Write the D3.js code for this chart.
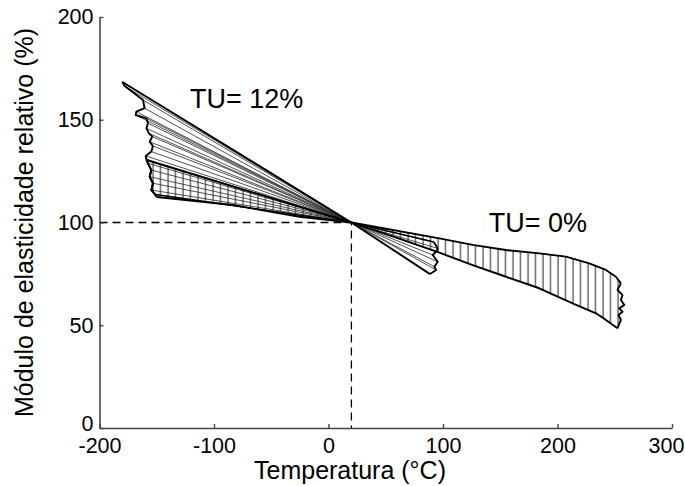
<!DOCTYPE html>
<html><head><meta charset="utf-8">
<script src="https://cdn.jsdelivr.net/npm/d3@7/dist/d3.min.js"></script>
<style>body{margin:0;background:#fff}svg{display:block}text{font-family:"Liberation Sans",Arial,sans-serif;fill:#000}</style>
</head><body><svg id="c" width="685" height="486"></svg>
<script>
// ---- data (temperature °C, relative modulus %) ----
const xTicks = [-200, -100, 0, 100, 200, 300];
const yTicks = [0, 50, 100, 150, 200];
const pivot = [20, 100];
// TU = 12% : left end points of the individual lines (jagged edge), top to bottom
const tu12Left = [[-180,168.4],[-178,166.4],[-162,159.6],[-160.6,155.6],[-167.8,153.9],[-168.4,152.3],[-159,150.7],[-157.7,148.3],[-159,145.8],[-156.8,143.4],[-153.9,141.8],[-156.2,139.3],[-153.3,137.2],[-154.7,134.5],[-159.7,132.4],[-159,130.7],[-157.7,128.8],[-154.7,125.5],[-156.2,122.3],[-153.3,119.1],[-154.7,115.8],[-151,113.6]];
// TU = 12% : right end points, bottom to top
const tu12Right = [[88.7,74.9],[94,76.9],[92.5,78.5],[95.4,80.9],[91,84.2],[94,85.8],[95.4,87.4],[92,90.5]];
// TU = 0% band
const tu0UpperLeft = [[-159,130.4],[20,100]];
const tu0UpperRight = [[20,100],[96.9,92.3],[125.9,89.1],[155,86.6],[184.1,85],[207.4,83.4],[227.7,80.1],[242.3,76.9],[251,73.6],[255.4,70.4]];
const tu0RightEdge = [[255.4,70.4],[252.4,67.2],[256.8,64.7],[255.4,62.3],[258.3,59.9],[253.9,58.2],[256.8,56.6],[253.3,55],[255.4,52.6],[252.4,48.5]];
const tu0LowerRight = [[252.4,48.5],[242.3,52.6],[233.6,55.8],[213.2,60.7],[184.1,68],[155,73.6],[125.9,79.3],[96.9,85.3],[60,92.5],[20,100]];
const tu0LowerLeft = [[20,100],[-25.3,102.8],[-83.5,108.5],[-150,112.4]];
const tu0LeftEdge = [[-150,112.4],[-154.7,115.8],[-153.3,119.1],[-156.2,122.3],[-154.7,125.5],[-157.7,128.8],[-159,130.4]];
const labels = [{t:"TU= 12%", x:-121, y:155.5}, {t:"TU= 0%", x:140, y:95.5}];

// ---- drawing ----
const svg = d3.select("#c");
const x = d3.scaleLinear().domain([-200,300]).range([99.5,672]);
const y = d3.scaleLinear().domain([0,200]).range([428,17]);
const line = d3.line().x(d=>x(d[0])).y(d=>y(d[1]));

const defs = svg.append("defs");
const pat = defs.append("pattern").attr("id","vh").attr("patternUnits","userSpaceOnUse")
  .attr("width",7.5).attr("height",10);
pat.append("line").attr("x1",3).attr("x2",3).attr("y1",0).attr("y2",10)
  .attr("stroke","#333").attr("stroke-width",1.1);

const band0 = [].concat(tu0UpperLeft, tu0UpperRight.slice(1), tu0RightEdge.slice(1), tu0LowerRight.slice(1), tu0LowerLeft.slice(1), tu0LeftEdge.slice(1));
svg.append("path").attr("d", line(band0)+"Z").attr("fill","url(#vh)").attr("stroke","none");

// fan lines TU=12%
const g12 = svg.append("g");
tu12Left.forEach(p=>g12.append("path").attr("d",line([p,pivot])).attr("stroke","#333").attr("stroke-width",0.85).attr("fill","none"));
tu12Right.forEach(p=>g12.append("path").attr("d",line([pivot,p])).attr("stroke","#333").attr("stroke-width",0.85).attr("fill","none"));

// outlines
const outl = (pts,w)=>svg.append("path").attr("d",line(pts)).attr("fill","none").attr("stroke","#000").attr("stroke-width",w).attr("stroke-linejoin","round");
outl(tu12Left,1.9);
outl(tu12Right,1.9);
outl([tu12Left[0],pivot,tu12Right[0]],1.9);
outl([tu12Left[tu12Left.length-1],pivot],1.4);
outl([pivot,tu12Right[tu12Right.length-1]],1.4);
outl(tu0UpperLeft,1.9);
outl(tu0UpperRight,1.9);
outl(tu0RightEdge,1.9);
outl(tu0LowerRight,1.9);
outl(tu0LowerLeft,1.9);
outl(tu0LeftEdge,1.9);

// dashed reference lines
svg.append("path").attr("d",line([[-200,pivot[1]],pivot,[pivot[0],0]])).attr("fill","none")
  .attr("stroke","#000").attr("stroke-width",1.3).attr("stroke-dasharray","8,5");

// axes
const fmt = d=>String(d);
const ax = svg.append("g").attr("transform",`translate(0,${y(0)})`)
  .call(d3.axisBottom(x).tickValues(xTicks).tickFormat(fmt).tickSizeInner(-4).tickSizeOuter(0).tickPadding(10));
const ay = svg.append("g").attr("transform",`translate(${x(-200)},0)`)
  .call(d3.axisLeft(y).tickValues(yTicks).tickFormat(fmt).tickSizeInner(-4).tickSizeOuter(0).tickPadding(6));
[ax,ay].forEach(a=>{
  a.select(".domain").attr("stroke","#444").attr("stroke-width",1.6);
  a.selectAll(".tick line").attr("stroke","#444").attr("stroke-width",1.4);
  a.selectAll(".tick text").attr("font-size",21.5).attr("fill","#000").attr("font-family","Liberation Sans, Arial, sans-serif");
});
ax.selectAll(".tick text").attr("dy","0.71em");
ax.selectAll(".tick").filter(d=>d===300).select("text").attr("dx",-6);
ay.selectAll(".tick").filter(d=>d===0).select("text").attr("dy","0.1em");

svg.append("text").attr("x",350).attr("y",479).attr("text-anchor","middle")
  .attr("font-size",25).text("Temperatura (°C)");
svg.append("text").attr("transform",`translate(33,${(y(0)+y(200))/2}) rotate(-90)`).attr("text-anchor","middle")
  .attr("font-size",25).text("Módulo de elasticidade relativo (%)");

labels.forEach(l=>svg.append("text").attr("x",x(l.x)).attr("y",y(l.y)).attr("font-size",27).text(l.t));
</script></body></html>
